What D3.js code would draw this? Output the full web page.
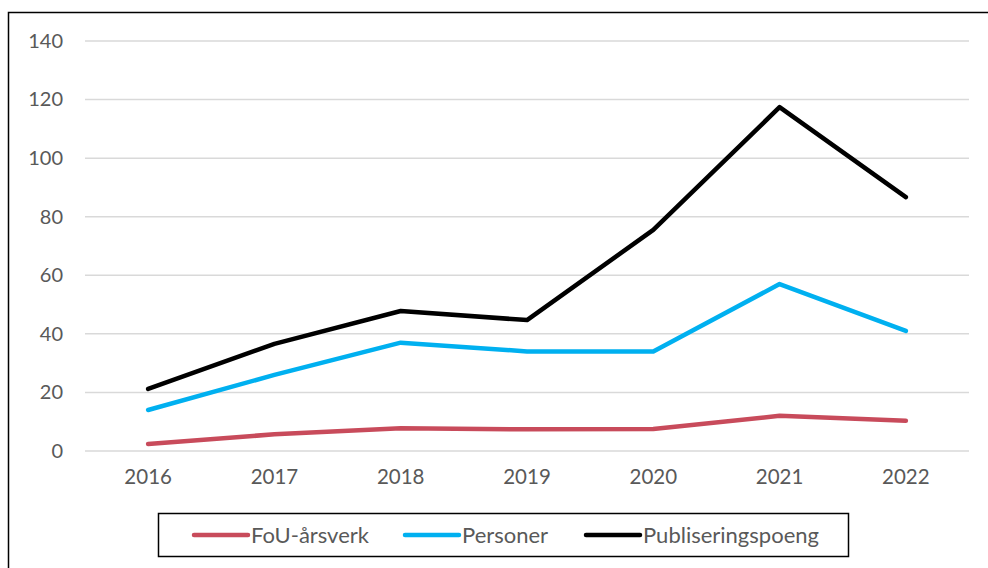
<!DOCTYPE html>
<html>
<head>
<meta charset="utf-8">
<script src="https://cdn.jsdelivr.net/npm/d3@7"></script>
<style>
  body { margin: 0; background: #fff; }
  text { font-family: Lato, "Open Sans", sans-serif; }
</style>
</head>
<body>
<script>
// data
var years = ["2016", "2017", "2018", "2019", "2020", "2021", "2022"];
var fouArsverk = [2.4, 5.7, 7.8, 7.4, 7.5, 12.0, 10.3];
var personer = [14, 26, 37, 34, 34, 57, 41];
var publiseringspoeng = [21.2, 36.6, 47.8, 44.7, 75.5, 117.4, 86.7];
var yTicks = [0, 20, 40, 60, 80, 100, 120, 140];

var series = [
  { name: "FoU-årsverk", values: fouArsverk, color: "#C84B5B" },
  { name: "Personer", values: personer, color: "#00B0F0" },
  { name: "Publiseringspoeng", values: publiseringspoeng, color: "#000000" }
];

var W = 988, H = 568;
var svg = d3.select("body").append("svg")
  .attr("width", W)
  .attr("height", H);

// outer frame
svg.append("rect")
  .attr("x", 8.5).attr("y", 12.5)
  .attr("width", 1000).attr("height", 600)
  .attr("fill", "none").attr("stroke", "#000").attr("stroke-width", 1.5);

var x = d3.scaleBand().domain(years).range([85, 969]);
var y = d3.scaleLinear().domain([0, 140]).range([451, 41]);

// gridlines
svg.append("g").selectAll("line").data(yTicks).enter().append("line")
  .attr("x1", 85).attr("x2", 969)
  .attr("y1", function(d) { return y(d) })
  .attr("y2", function(d) { return y(d) })
  .attr("stroke", "#d9d9d9").attr("stroke-width", 1.5);

var yAxis = svg.append("g")
  .attr("transform", "translate(63,0)")
  .call(d3.axisLeft(y).tickValues(yTicks).tickSize(0).tickPadding(0));
yAxis.select(".domain").remove();
yAxis.selectAll("text")
  .attr("fill", "#595959").style("font-size", "20px")
  .style("font-family", "Lato, sans-serif");

var xAxis = svg.append("g")
  .attr("transform", "translate(0,469)")
  .call(d3.axisBottom(x).tickSize(0).tickPadding(0));
xAxis.select(".domain").remove();
xAxis.selectAll("text")
  .attr("fill", "#595959").style("font-size", "20.5px")
  .style("font-family", "Lato, sans-serif");

var line = d3.line()
  .x(function(d, i) { return x(years[i]) + x.bandwidth() / 2 })
  .y(function(d) { return y(d) });

svg.append("g").selectAll("path").data(series).enter().append("path")
  .attr("d", function(d) { return line(d.values) })
  .attr("fill", "none")
  .attr("stroke", function(d) { return d.color })
  .attr("stroke-width", 4.5)
  .attr("stroke-linecap", "round")
  .attr("stroke-linejoin", "round");

// legend
svg.append("rect")
  .attr("x", 158.5).attr("y", 513.5)
  .attr("width", 690).attr("height", 43)
  .attr("fill", "#fff").attr("stroke", "#000").attr("stroke-width", 1.5);

var legendX = [194, 405, 586];
var leg = svg.append("g").selectAll("g").data(series).enter().append("g")
  .attr("transform", function(d, i) { return "translate(" + legendX[i] + ",535)" });
leg.append("line")
  .attr("x1", 0).attr("x2", 54)
  .attr("stroke", function(d) { return d.color })
  .attr("stroke-width", 4.5)
  .attr("stroke-linecap", "round");
leg.append("text")
  .attr("x", 57).attr("dy", "0.35em")
  .attr("fill", "#595959").style("font-size", "22px")
  .text(function(d) { return d.name });
</script>
</body>
</html>
